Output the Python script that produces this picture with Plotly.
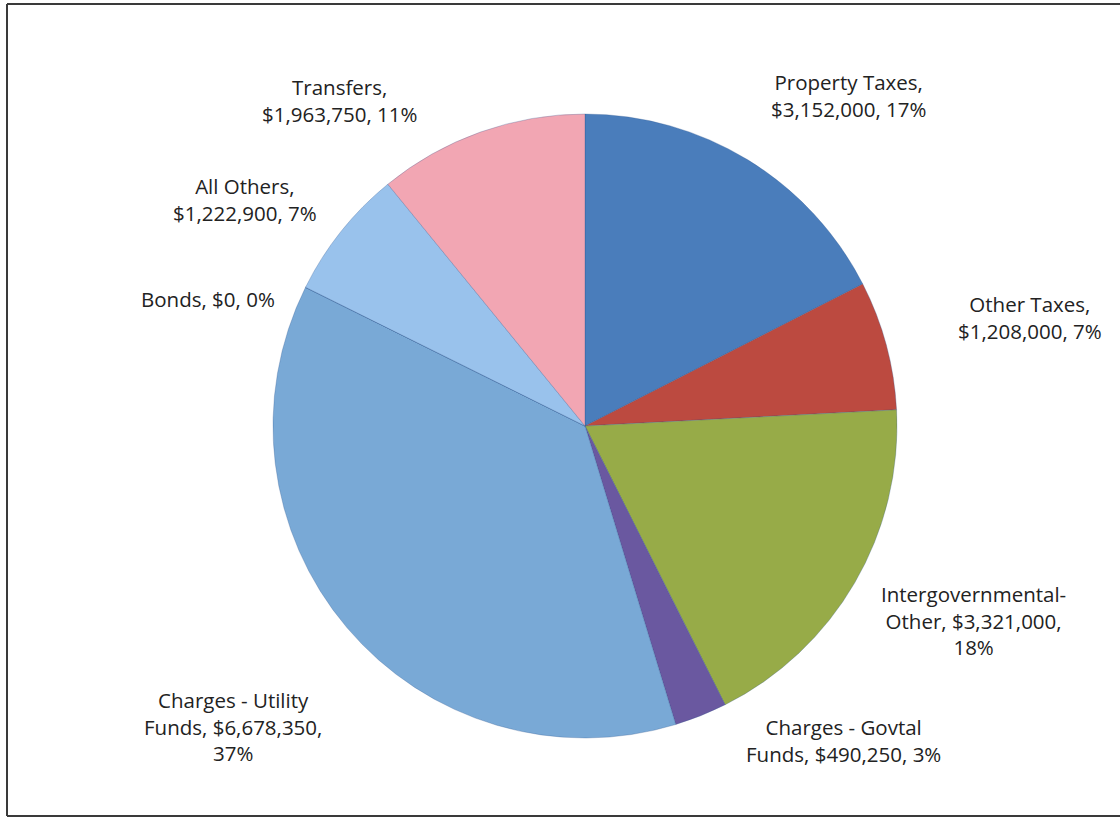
import plotly.graph_objects as go

# Revenue sources, clockwise from 12 o'clock
categories = [
    "Property Taxes",
    "Other Taxes",
    "Intergovernmental-Other",
    "Charges - Govtal Funds",
    "Charges - Utility Funds",
    "Bonds",
    "All Others",
    "Transfers",
]
amounts = [3152000, 1208000, 3321000, 490250, 6678350, 0, 1222900, 1963750]

colors = [
    "#4A7DBB",  # property taxes
    "#BC4A40",  # other taxes
    "#97AB48",  # intergovernmental
    "#6A58A0",  # charges govtal
    "#79A9D6",  # charges utility
    "#5B9BD5",  # bonds
    "#99C2EC",  # all others
    "#F2A6B3",  # transfers
]

# Label text wrapping (line breaks per category)
label_lines = {
    "Property Taxes": ["Property Taxes,", "{amt}, {pct}"],
    "Other Taxes": ["Other Taxes,", "{amt}, {pct}"],
    "Intergovernmental-Other": ["Intergovernmental-", "Other, {amt},", "{pct}"],
    "Charges - Govtal Funds": ["Charges - Govtal", "Funds, {amt}, {pct}"],
    "Charges - Utility Funds": ["Charges - Utility", "Funds, {amt},", "{pct}"],
    "Bonds": ["Bonds, {amt}, {pct}"],
    "All Others": ["All Others,", "{amt}, {pct}"],
    "Transfers": ["Transfers,", "{amt}, {pct}"],
}

# Label centres in pixels of the 1120x818 canvas
label_pos = {
    "Property Taxes": (848, 96),
    "Other Taxes": (1030, 318),
    "Intergovernmental-Other": (973, 620),
    "Charges - Govtal Funds": (843, 740),
    "Charges - Utility Funds": (233, 726),
    "Bonds": (208, 299),
    "All Others": (245, 199),
    "Transfers": (339, 100),
}

W, H = 1120, 818
cx, cy, r = 585, 426, 312

total = sum(amounts)

fig = go.Figure(
    go.Pie(
        labels=categories,
        values=amounts,
        sort=False,
        direction="clockwise",
        rotation=0,
        marker=dict(colors=colors, line=dict(color="rgba(40,80,140,0.35)", width=0.8)),
        textinfo="none",
        hoverinfo="label+value+percent",
        showlegend=False,
        domain=dict(
            x=[(cx - r) / W, (cx + r) / W],
            y=[1 - (cy + r) / H, 1 - (cy - r) / H],
        ),
    )
)

annotations = []
for cat, amt in zip(categories, amounts):
    pct = f"{round(100 * amt / total)}%"
    amt_s = f"${amt:,.0f}"
    text = "<br>".join(line.format(amt=amt_s, pct=pct) for line in label_lines[cat])
    px, py = label_pos[cat]
    annotations.append(
        dict(
            x=px / W,
            y=1 - py / H,
            xref="paper",
            yref="paper",
            text=text,
            showarrow=False,
            align="center",
            xanchor="center",
            yanchor="middle",
            font=dict(family="Open Sans, sans-serif", size=20.5, color="#222222"),
        )
    )

frame = dict(color="#3a3a3a", width=2)
shapes = [
    dict(type="line", xref="paper", yref="paper", x0=7 / W, x1=1.02, y0=1 - 4 / H, y1=1 - 4 / H, line=frame),
    dict(type="line", xref="paper", yref="paper", x0=7 / W, x1=7 / W, y0=1 - 4 / H, y1=1 - 816 / H, line=frame),
    dict(type="line", xref="paper", yref="paper", x0=7 / W, x1=1.02, y0=1 - 816 / H, y1=1 - 816 / H, line=frame),
]

fig.update_layout(
    width=W,
    height=H,
    margin=dict(l=0, r=0, t=0, b=0),
    paper_bgcolor="white",
    plot_bgcolor="white",
    annotations=annotations,
    shapes=shapes,
)

fig.write_html("out.html", config={"displayModeBar": False})
